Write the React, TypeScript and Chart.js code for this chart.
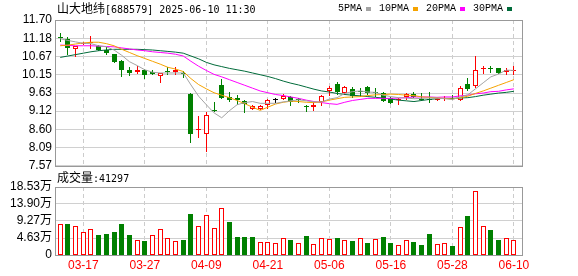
import { useEffect, useRef } from 'react';
import { Chart, registerables } from 'chart.js';

Chart.register(...registerables);

const stockName = '山大地纬';
const stockCode = '688579';
const stamp = '2025-06-10 11:30';
const volumeTitle = '成交量';
const lastVolume = '41297';

const dates = [
  '03-12', '03-13', '03-14', '03-17', '03-18', '03-19', '03-20', '03-21', '03-24', '03-25',
  '03-26', '03-27', '03-28', '03-31', '04-01', '04-02', '04-03', '04-07', '04-08', '04-09',
  '04-10', '04-11', '04-14', '04-15', '04-16', '04-17', '04-18', '04-21', '04-22', '04-23',
  '04-24', '04-25', '04-28', '04-29', '04-30', '05-06', '05-07', '05-08', '05-09', '05-12',
  '05-13', '05-14', '05-15', '05-16', '05-19', '05-20', '05-21', '05-22', '05-23', '05-26',
  '05-27', '05-28', '05-29', '05-30', '06-03', '06-04', '06-05', '06-06', '06-09', '06-10',
];

const opens = [
  11.20, 11.15, 10.89, 11.03, 11.05, 10.96, 10.86, 10.74, 10.55, 10.29,
  10.22, 10.28, 10.23, 10.12, 10.23, 10.23, 10.18, 9.61, 8.59, 8.48,
  9.14, 9.86, 9.51, 9.50, 9.41, 9.19, 9.19, 9.28, 9.44, 9.47,
  9.51, 9.45, 9.25, 9.23, 9.38, 9.68, 9.90, 9.63, 9.75, 9.67,
  9.79, 9.66, 9.63, 9.48, 9.42, 9.51, 9.60, 9.45, 9.45, 9.44,
  9.46, 9.50, 9.44, 9.89, 9.82, 10.32, 10.31, 10.34, 10.22, 10.26,
];
const highs = [
  11.33, 11.21, 10.97, 11.08, 11.24, 10.99, 10.93, 10.75, 10.58, 10.38,
  10.41, 10.32, 10.28, 10.20, 10.38, 10.36, 10.25, 9.62, 8.98, 9.09,
  9.39, 10.04, 9.65, 9.57, 9.44, 9.30, 9.29, 9.47, 9.48, 9.59,
  9.54, 9.49, 9.29, 9.39, 9.58, 9.83, 9.94, 9.83, 9.80, 9.77,
  9.82, 9.77, 9.65, 9.51, 9.49, 9.63, 9.66, 9.64, 9.66, 9.48,
  9.54, 9.57, 9.83, 10.06, 10.67, 10.41, 10.41, 10.35, 10.34, 10.41,
];
const lows = [
  11.08, 10.70, 10.64, 11.00, 10.89, 10.81, 10.72, 10.48, 10.08, 10.10,
  10.18, 10.04, 10.13, 9.91, 10.14, 10.15, 10.06, 8.22, 8.37, 7.95,
  9.10, 9.46, 9.39, 9.29, 9.06, 9.14, 9.15, 9.17, 9.36, 9.44,
  9.26, 9.35, 9.09, 9.11, 9.25, 9.56, 9.57, 9.58, 9.48, 9.53,
  9.58, 9.53, 9.38, 9.33, 9.29, 9.44, 9.48, 9.40, 9.34, 9.40,
  9.41, 9.42, 9.41, 9.70, 9.78, 10.18, 10.21, 10.17, 10.14, 10.15,
];
const closes = [
  11.18, 10.91, 10.96, 11.05, 11.06, 10.86, 10.77, 10.51, 10.29, 10.19,
  10.29, 10.15, 10.17, 10.19, 10.22, 10.27, 10.16, 8.46, 8.61, 9.00,
  9.12, 9.48, 9.44, 9.43, 9.32, 9.25, 9.26, 9.42, 9.44, 9.54,
  9.38, 9.43, 9.24, 9.30, 9.55, 9.77, 9.66, 9.81, 9.54, 9.66,
  9.63, 9.64, 9.40, 9.36, 9.47, 9.59, 9.53, 9.44, 9.43, 9.46,
  9.47, 9.46, 9.77, 9.75, 10.28, 10.33, 10.30, 10.20, 10.27, 10.28,
];

// volume in 万 (10,000 shares)
const volumes = [
  8.49, 8.49, 7.88, 6.20, 7.00, 5.45, 5.73, 6.22, 8.49, 5.45,
  4.00, 3.80, 5.35, 7.07, 4.53, 3.71, 4.08, 11.14, 7.80, 10.79,
  7.26, 12.69, 8.89, 4.98, 4.89, 4.89, 3.53, 3.53, 3.26, 4.62,
  4.08, 3.18, 5.16, 2.91, 4.53, 4.35, 4.62, 3.99, 3.80, 4.53,
  3.26, 4.26, 4.89, 3.26, 2.63, 3.99, 3.53, 2.72, 5.71, 2.91,
  3.18, 2.45, 7.53, 10.60, 17.31, 7.80, 6.79, 4.08, 4.53, 4.13,
];

const ma5 = [
  11.17, 11.12, 11.08, 11.04, 11.03, 10.97, 10.94, 10.85, 10.70, 10.52,
  10.41, 10.29, 10.22, 10.20, 10.20, 10.20, 10.20, 9.86, 9.54, 9.30,
  9.07, 8.93, 9.13, 9.30, 9.36, 9.39, 9.34, 9.34, 9.34, 9.38,
  9.41, 9.44, 9.41, 9.38, 9.38, 9.46, 9.50, 9.62, 9.67, 9.69,
  9.66, 9.65, 9.57, 9.53, 9.50, 9.49, 9.47, 9.48, 9.49, 9.49,
  9.47, 9.45, 9.52, 9.58, 9.75, 9.92, 10.09, 10.17, 10.28, 10.27,
];
const ma10 = [
  10.97, 10.99, 11.02, 11.05, 11.07, 11.07, 11.03, 10.97, 10.87, 10.78,
  10.69, 10.61, 10.53, 10.45, 10.36, 10.31, 10.24, 10.04, 9.87, 9.75,
  9.64, 9.57, 9.50, 9.42, 9.33, 9.23, 9.14, 9.23, 9.32, 9.37,
  9.40, 9.39, 9.37, 9.36, 9.38, 9.43, 9.47, 9.51, 9.52, 9.53,
  9.56, 9.58, 9.59, 9.60, 9.59, 9.57, 9.56, 9.52, 9.51, 9.49,
  9.48, 9.46, 9.50, 9.54, 9.62, 9.69, 9.77, 9.85, 9.93, 10.01,
];
const ma20 = [
  10.99, 10.98, 10.97, 10.97, 10.97, 10.96, 10.95, 10.94, 10.91, 10.88,
  10.85, 10.83, 10.80, 10.78, 10.76, 10.73, 10.68, 10.53, 10.39, 10.27,
  10.16, 10.09, 10.01, 9.93, 9.85, 9.77, 9.69, 9.64, 9.59, 9.56,
  9.52, 9.48, 9.43, 9.39, 9.36, 9.33, 9.31, 9.37, 9.42, 9.45,
  9.48, 9.48, 9.48, 9.48, 9.49, 9.50, 9.52, 9.52, 9.52, 9.51,
  9.52, 9.52, 9.55, 9.57, 9.61, 9.63, 9.67, 9.68, 9.72, 9.75,
];
const ma30 = [
  10.64, 10.68, 10.72, 10.76, 10.80, 10.83, 10.85, 10.87, 10.87, 10.87,
  10.87, 10.86, 10.85, 10.83, 10.81, 10.79, 10.76, 10.68, 10.60, 10.50,
  10.43, 10.38, 10.33, 10.29, 10.25, 10.20, 10.15, 10.10, 10.04, 9.97,
  9.91, 9.86, 9.80, 9.74, 9.69, 9.66, 9.62, 9.59, 9.57, 9.55,
  9.53, 9.51, 9.49, 9.46, 9.43, 9.41, 9.39, 9.42, 9.45, 9.47,
  9.48, 9.48, 9.49, 9.50, 9.53, 9.57, 9.60, 9.63, 9.65, 9.68,
];

const maNames = ['5PMA', '10PMA', '20PMA', '30PMA'];
const maColors = ['#a3a3a3', '#f5a300', '#ff00ff', '#006b3a'];
const priceTicks = [7.57, 8.09, 8.60, 9.12, 9.63, 10.15, 10.67, 11.18, 11.70];
const volumeTicks = [0, 4.63, 9.27, 13.90, 18.53];
const labelIndexes = [3, 11, 19, 27, 35, 43, 51, 59];

const UP = '#ff0000';
const DOWN = '#008000';
const FLAT = '#000000';
const FONT = 'Liberation Sans, "Noto Sans CJK SC", sans-serif';

const candleColors = closes.map((c, i) => (c > opens[i] ? UP : c < opens[i] ? DOWN : FLAT));
const volumeUp = closes.map((c, i) => (i === 0 ? true : c >= closes[i - 1]));

const crispPlugin = {
  id: 'crispBars',
  afterDatasetsUpdate(chart: any) {
    chart.data.datasets.forEach((_: any, di: number) => {
      const meta = chart.getDatasetMeta(di);
      if (meta.type !== 'bar') return;
      meta.data.forEach((el: any) => {
        el.x = Math.floor(el.x) + 0.5;
        el.y = Math.round(el.y);
        el.base = Math.round(el.base);
        if (el.base === el.y) el.base = el.y + 1;
      });
    });
  },
};

const framePlugin = {
  id: 'frame',
  afterDraw(chart: any) {
    const { ctx, chartArea } = chart;
    const { left, top, right, bottom } = chartArea;
    ctx.save();
    ctx.strokeStyle = '#999999';
    ctx.lineWidth = 1;
    ctx.strokeRect(Math.round(left) + 0.5, Math.round(top) + 0.5, Math.round(right - left), Math.round(bottom - top));
    ctx.restore();
  },
};

const X_MIN = -0.68;
const X_MAX = 60.05;

function xScale(showLabels: boolean): any {
  return {
    type: 'linear',
    min: X_MIN,
    max: X_MAX,
    offset: false,
    afterBuildTicks: (s: any) => {
      s.ticks = labelIndexes.map((v) => ({ value: v }));
    },
    afterFit: (s: any) => {
      s.height = showLabels ? 21 : 0;
    },
    grid: { color: '#cccccc', lineWidth: 1, drawTicks: false, offset: false },
    border: { display: false, dash: [4, 3] },
    ticks: {
      display: showLabels,
      autoSkip: false,
      maxRotation: 0,
      padding: 3,
      color: UP,
      font: { family: FONT, size: 12 },
      callback: (v: any) => dates[v] ?? '',
    },
  };
}

function yScale(min: number, max: number, ticks: number[], fmt: (v: number) => string): any {
  return {
    type: 'linear',
    min,
    max,
    afterBuildTicks: (s: any) => {
      s.ticks = ticks.map((v) => ({ value: v }));
    },
    afterFit: (s: any) => {
      s.width = 55;
    },
    grid: { color: '#d0d0d0', drawTicks: false },
    border: { display: false },
    ticks: {
      autoSkip: false,
      padding: 3,
      color: '#000000',
      font: { family: FONT, size: 12 },
      callback: (v: any) => fmt(Number(v)),
    },
  };
}

export default function App() {
  const priceRef = useRef<HTMLCanvasElement>(null);
  const volRef = useRef<HTMLCanvasElement>(null);

  useEffect(() => {
    const lineSets = [ma5, ma10, ma20, ma30].map((arr, k) => ({
      type: 'line',
      label: maNames[k],
      data: arr.map((v, i) => ({ x: i, y: v })),
      borderColor: maColors[k],
      borderWidth: 1,
      pointRadius: 0,
      tension: 0,
      order: 0,
    }));

    const priceChart = new Chart(priceRef.current as HTMLCanvasElement, {
      type: 'bar',
      data: {
        datasets: [
          {
            type: 'bar',
            label: 'wick',
            data: dates.map((_, i) => ({ x: i, y: [lows[i], highs[i]] })),
            backgroundColor: candleColors,
            borderWidth: 0,
            barThickness: 1,
            grouped: false,
            inflateAmount: 0,
            minBarLength: 1,
            order: 2,
          },
          {
            type: 'bar',
            label: 'body',
            data: dates.map((_, i) => ({ x: i, y: [opens[i], closes[i]] })),
            backgroundColor: candleColors.map((c) => (c === UP ? '#ffffff' : c)),
            borderColor: candleColors,
            borderWidth: 1,
            borderSkipped: false,
            barThickness: 5,
            grouped: false,
            inflateAmount: 0,
            minBarLength: 1,
            order: 1,
          },
          ...lineSets,
        ] as any,
      },
      options: {
        responsive: false,
        animation: false,
        layout: { padding: { top: 20, right: 56, bottom: 10, left: 0 } },
        plugins: { legend: { display: false }, tooltip: { enabled: false } },
        scales: {
          x: xScale(false),
          y: yScale(7.57, 11.7, priceTicks, (v) => v.toFixed(2)),
        },
      } as any,
      plugins: [crispPlugin, framePlugin],
    });

    const volChart = new Chart(volRef.current as HTMLCanvasElement, {
      type: 'bar',
      data: {
        datasets: [
          {
            label: volumeTitle,
            data: volumes.map((v, i) => ({ x: i, y: v })),
            backgroundColor: volumeUp.map((u) => (u ? '#ffffff' : DOWN)),
            borderColor: volumeUp.map((u) => (u ? UP : DOWN)),
            borderWidth: 1,
            borderSkipped: false,
            barThickness: 5,
            grouped: false,
            inflateAmount: 0,
          },
        ] as any,
      },
      options: {
        responsive: false,
        animation: false,
        layout: { padding: { top: 11, right: 56, bottom: 0, left: 0 } },
        plugins: { legend: { display: false }, tooltip: { enabled: false } },
        scales: {
          x: xScale(true),
          y: yScale(0, 18.53, volumeTicks, (v) => (v === 0 ? '0' : v.toFixed(2) + '万')),
        },
      } as any,
      plugins: [crispPlugin, framePlugin],
    });

    return () => {
      priceChart.destroy();
      volChart.destroy();
    };
  }, []);

  const cjk = { fontFamily: '"Noto Sans CJK SC", sans-serif', fontSize: 12 };
  const mono = { fontFamily: '"DejaVu Sans Mono", monospace', fontSize: 10 };

  return (
    <div style={{ position: 'fixed', left: 0, top: 0, width: 578, height: 276, background: '#ffffff', overflow: 'hidden' }}>
      <canvas ref={priceRef} width={578} height={176} style={{ position: 'absolute', left: 0, top: 0 }} />
      <canvas ref={volRef} width={578} height={100} style={{ position: 'absolute', left: 0, top: 176 }} />
      <div style={{ position: 'absolute', left: 57, top: 1, lineHeight: '14px', height: 14, whiteSpace: 'nowrap', color: '#000' }}>
        <span style={cjk}>{stockName}</span>
        <span style={mono}>[{stockCode}] {stamp}</span>
      </div>
      <div style={{ position: 'absolute', left: 338, top: 2, height: 14, display: 'flex', alignItems: 'center', whiteSpace: 'nowrap', color: '#000' }}>
        {maNames.map((n, k) => (
          <div key={n} style={{ display: 'flex', alignItems: 'center', marginRight: 8 }}>
            <span style={{ fontFamily: '"Liberation Mono", monospace', fontSize: 10, lineHeight: '14px' }}>{n}</span>
            <span style={{ display: 'inline-block', width: 5, height: 4, marginLeft: 4, background: maColors[k] }} />
          </div>
        ))}
      </div>
      <div style={{ position: 'absolute', left: 57, top: 170, lineHeight: '14px', height: 14, whiteSpace: 'nowrap', color: '#000' }}>
        <span style={cjk}>{volumeTitle}</span>
        <span style={mono}>:{lastVolume}</span>
      </div>
    </div>
  );
}
